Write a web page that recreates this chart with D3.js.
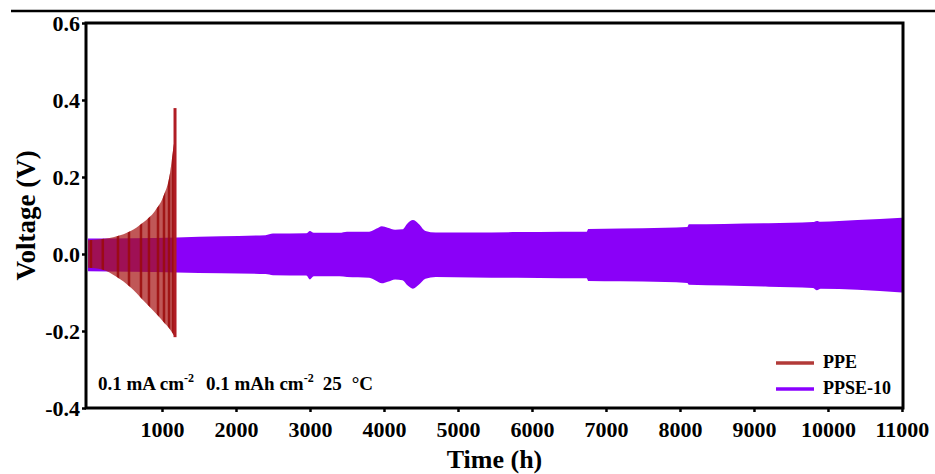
<!DOCTYPE html>
<html>
<head>
<meta charset="utf-8">
<script src="https://cdn.jsdelivr.net/npm/d3@7"></script>
<style>
  body { margin: 0; background: #fff; }
  svg { display: block; font-family: "Liberation Serif", "Times New Roman", serif; font-weight: bold; }
</style>
</head>
<body>
<svg id="chart" width="935" height="474"></svg>
<script>
// PPSE-10 voltage envelope (h, V)
const ppseHours = [0, 600, 1200, 1800, 2400, 2500, 2950, 3000, 3050, 3400, 3500, 3800, 3900, 3970, 4050, 4150, 4250, 4320, 4390, 4470, 4560, 4700, 5200, 5800, 6400, 6740, 6760, 7200, 7800, 8100, 8120, 8600, 9200, 9800, 9850, 9900, 10400, 11000]
const ppseUpper = [0.040, 0.041, 0.043, 0.046, 0.049, 0.053, 0.054, 0.060, 0.055, 0.055, 0.058, 0.058, 0.066, 0.072, 0.068, 0.063, 0.064, 0.080, 0.088, 0.078, 0.060, 0.056, 0.056, 0.057, 0.058, 0.058, 0.065, 0.066, 0.068, 0.070, 0.077, 0.078, 0.080, 0.083, 0.086, 0.084, 0.088, 0.094]
const ppseLower = [-0.045, -0.046, -0.048, -0.050, -0.052, -0.055, -0.056, -0.066, -0.058, -0.058, -0.060, -0.062, -0.070, -0.076, -0.072, -0.066, -0.068, -0.082, -0.090, -0.080, -0.064, -0.060, -0.061, -0.062, -0.063, -0.063, -0.070, -0.071, -0.073, -0.075, -0.080, -0.082, -0.085, -0.088, -0.094, -0.090, -0.093, -0.100]

// PPE voltage envelope (h, V)
const ppeHours = [0, 190, 390, 570, 745, 905, 1015, 1110, 1150, 1172]
const ppeUpper = [0.036, 0.039, 0.046, 0.059, 0.082, 0.112, 0.148, 0.212, 0.270, 0.300]
const ppeLower = [-0.036, -0.040, -0.060, -0.086, -0.120, -0.152, -0.175, -0.196, -0.208, -0.215]
// darker cycle stripes inside the PPE envelope
const ppeStripes = [40, 200, 405, 554, 716, 824, 946, 1027, 1095, 1149]
const ppeSpike = { hour: 1176, top: 0.379, bottom: -0.216 }

const xTicks = [1000, 2000, 3000, 4000, 5000, 6000, 7000, 8000, 9000, 10000, 11000]
const yTicks = [-0.4, -0.2, 0.0, 0.2, 0.4, 0.6]

const legendItems = [
    { name: 'PPE', color: '#b23a38' },
    { name: 'PPSE-10', color: '#8a00ff' }
]

const svg = d3.select('#chart')
const margin = { top: 23, right: 32, bottom: 66, left: 86 }
const width = +svg.attr('width') - margin.left - margin.right
const height = +svg.attr('height') - margin.top - margin.bottom

// stray rule left over from the figure above
svg.append('line')
    .attr('x1', 11).attr('x2', 935)
    .attr('y1', 11).attr('y2', 11)
    .attr('stroke', '#000')
    .attr('stroke-width', 2.5)

const g = svg.append('g')
    .attr('transform', `translate(${margin.left},${margin.top})`)

const x = d3.scaleLinear().domain([-27, 11014]).range([0, width])
const y = d3.scaleLinear().domain([-0.4, 0.6]).range([height, 0])

const ppse = ppseHours.map((h, i) => ({ h, hi: ppseUpper[i], lo: ppseLower[i] }))
const ppe = ppeHours.map((h, i) => ({ h, hi: ppeUpper[i], lo: ppeLower[i] }))

const band = d3.area()
    .curve(d3.curveMonotoneX)
    .x(d => x(d.h))
    .y0(d => y(d.lo))
    .y1(d => y(d.hi))

// purple band
g.append('path')
    .datum(ppse)
    .attr('fill', '#8a00f8')
    .attr('d', band)

// red PPE envelope over it
svg.append('defs').append('clipPath')
    .attr('id', 'ppe-clip')
    .append('path')
    .datum(ppe)
    .attr('d', band)

g.append('path')
    .datum(ppe)
    .attr('fill', '#a81616')
    .attr('fill-opacity', 0.72)
    .attr('d', band)

g.append('g')
    .attr('clip-path', 'url(#ppe-clip)')
    .selectAll('line')
    .data(ppeStripes)
    .join('line')
    .attr('x1', d => x(d)).attr('x2', d => x(d))
    .attr('y1', y(0.4)).attr('y2', y(-0.3))
    .attr('stroke', '#9a0a0a')
    .attr('stroke-opacity', 0.85)
    .attr('stroke-width', 2.5)

g.append('line')
    .attr('x1', x(ppeSpike.hour)).attr('x2', x(ppeSpike.hour))
    .attr('y1', y(ppeSpike.top)).attr('y2', y(ppeSpike.bottom))
    .attr('stroke', '#b01c24')
    .attr('stroke-width', 3)

// frame
g.append('rect')
    .attr('width', width)
    .attr('height', height)
    .attr('fill', 'none')
    .attr('stroke', '#000')
    .attr('stroke-width', 3)

// bottom axis (x)
const xAxis = g.append('g')
    .attr('transform', `translate(0,${height})`)
    .call(d3.axisBottom(x).tickValues(xTicks).tickFormat(d3.format('d')).tickSize(4).tickPadding(9))
xAxis.select('.domain').remove()
xAxis.selectAll('line').attr('stroke-width', 2.5)
xAxis.selectAll('text')
    .attr('fill', '#000')
    .attr('font-size', 22)
    .attr('font-family', '"Liberation Serif", serif')
    .attr('font-weight', 'bold')

// left axis (y)
const yAxis = g.append('g')
    .call(d3.axisLeft(y).tickValues(yTicks).tickFormat(d3.format('.1f')).tickSize(4).tickPadding(2))
yAxis.select('.domain').remove()
yAxis.selectAll('line').attr('stroke-width', 2.5)
yAxis.selectAll('text')
    .attr('fill', '#000')
    .attr('font-size', 22)
    .attr('font-family', '"Liberation Serif", serif')
    .attr('font-weight', 'bold')
    .text(d => d3.format('.1f')(d).replace('−', '-'))

// axis titles
svg.append('text')
    .attr('x', margin.left + width / 2)
    .attr('y', 468)
    .attr('text-anchor', 'middle')
    .attr('font-size', 26)
    .text('Time (h)')

svg.append('text')
    .attr('transform', `translate(35,${margin.top + height / 2}) rotate(-90)`)
    .attr('text-anchor', 'middle')
    .attr('font-size', 27)
    .text('Voltage (V)')

// test conditions
const note = svg.append('text')
    .attr('x', 98)
    .attr('y', 390)
    .attr('font-size', 19)
note.append('tspan').text('0.1 mA cm')
note.append('tspan').attr('font-size', 12).attr('dy', -8).text('-2')
note.append('tspan').attr('dx', 12).attr('dy', 8).text('0.1 mAh cm')
note.append('tspan').attr('font-size', 12).attr('dy', -8).text('-2')
note.append('tspan').attr('dx', 9).attr('dy', 8).text('25')
note.append('tspan').attr('dx', 10).text('°C')

// legend
const legend = svg.append('g')
    .attr('transform', 'translate(776,363)')
    .selectAll('g')
    .data(legendItems)
    .join('g')
    .attr('transform', (d, i) => `translate(0,${i * 26})`)

legend.append('line')
    .attr('x1', 0).attr('x2', 38)
    .attr('stroke', d => d.color)
    .attr('stroke-width', 3.5)

legend.append('text')
    .attr('x', 47)
    .attr('y', 5)
    .attr('font-size', 18)
    .text(d => d.name)
</script>
</body>
</html>
